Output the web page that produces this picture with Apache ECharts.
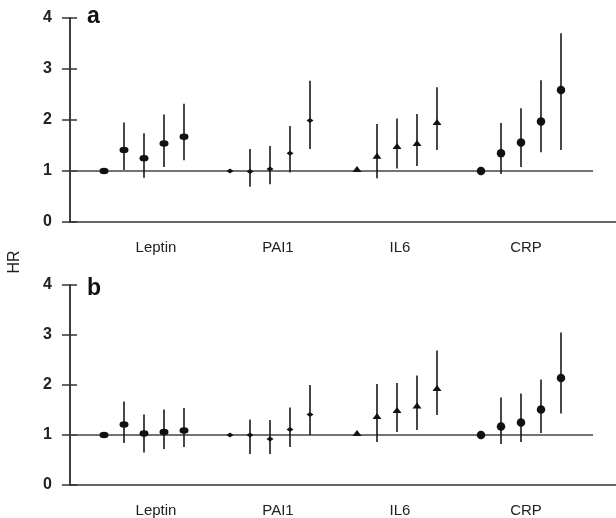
<!DOCTYPE html>
<html>
<head>
<meta charset="utf-8">
<script src="https://cdn.jsdelivr.net/npm/echarts@6/dist/echarts.min.js"></script>
<style>
  html, body { margin: 0; padding: 0; background: #fff; }
  #main { width: 616px; height: 518px; }
</style>
</head>
<body>
<div id="main"></div>
<script>
// 分组名称与标签位置
var groups = ['Leptin', 'PAI1', 'IL6', 'CRP'];
var labelPos = [4.3, 10.4, 16.5, 22.8];
var groupStart = [1.7, 8.0, 14.35, 20.55];

// a 图：HR 与置信区间
var hrA = [
  [1.00, 1.41, 1.25, 1.54, 1.67],
  [1.00, 0.99, 1.04, 1.35, 1.99],
  [1.00, 1.26, 1.45, 1.51, 1.92],
  [1.00, 1.35, 1.56, 1.97, 2.59]
];
var loA = [
  [null, 1.02, 0.87, 1.08, 1.21],
  [null, 0.69, 0.74, 0.97, 1.43],
  [null, 0.86, 1.05, 1.10, 1.41],
  [null, 0.94, 1.08, 1.37, 1.41]
];
var hiA = [
  [null, 1.95, 1.74, 2.11, 2.32],
  [null, 1.43, 1.49, 1.88, 2.77],
  [null, 1.92, 2.03, 2.12, 2.64],
  [null, 1.94, 2.23, 2.78, 3.70]
];

// b 图
var hrB = [
  [1.00, 1.21, 1.03, 1.06, 1.09],
  [1.00, 1.00, 0.92, 1.11, 1.41],
  [1.00, 1.34, 1.46, 1.55, 1.90],
  [1.00, 1.17, 1.25, 1.51, 2.14]
];
var loB = [
  [null, 0.84, 0.65, 0.72, 0.76],
  [null, 0.62, 0.62, 0.76, 1.00],
  [null, 0.86, 1.06, 1.10, 1.40],
  [null, 0.82, 0.86, 1.04, 1.43]
];
var hiB = [
  [null, 1.67, 1.41, 1.51, 1.54],
  [null, 1.31, 1.30, 1.55, 2.00],
  [null, 2.02, 2.04, 2.19, 2.69],
  [null, 1.75, 1.83, 2.11, 3.05]
];

// 各组标记样式
var marks = [
  { symbol: 'circle', size: [9, 6.5], offset: [0, 0] },
  { symbol: 'diamond', size: [7, 5], offset: [0, 0] },
  { symbol: 'triangle', size: [9, 6], offset: [0, -2] },
  { symbol: 'circle', size: [8.5, 8.5], offset: [0, 0] }
];

var font = 'Liberation Sans, Arial, sans-serif';
var axisColor = '#333';

function xAxisFor(gi) {
  return {
    gridIndex: gi, type: 'value', min: 0, max: 27.3,
    splitLine: { show: false },
    axisLine: { lineStyle: { color: axisColor, width: 1.5 } },
    axisTick: { show: false },
    axisLabel: {
      customValues: labelPos,
      margin: 18,
      fontFamily: font, fontSize: 15, color: '#222',
      formatter: function (v) {
        for (var k = 0; k < labelPos.length; k++) {
          if (Math.abs(labelPos[k] - v) < 0.01) return groups[k];
        }
        return '';
      }
    }
  };
}

function yAxesFor(gi) {
  return [{
    gridIndex: gi, type: 'value', min: 0, max: 4, interval: 1, position: 'left',
    splitLine: { show: false },
    axisLine: { lineStyle: { color: axisColor, width: 1.5 } },
    axisTick: { length: 8, lineStyle: { color: axisColor, width: 1.5 } },
    axisLabel: { margin: 18, fontFamily: font, fontSize: 16, fontWeight: 'bold', color: '#222' }
  }, {
    // 刻度线向内的部分
    gridIndex: gi, type: 'value', min: 0, max: 4, interval: 1, position: 'left', offset: 0,
    splitLine: { show: false },
    axisLine: { show: true, lineStyle: { color: axisColor, width: 1.5 } },
    axisTick: { show: true, inside: true, length: 7, lineStyle: { color: axisColor, width: 1.5 } },
    axisLabel: { show: false }
  }];
}

function panelSeries(gi, hr, lo, hi) {
  var out = [];
  var xIdx = gi, yIdx = gi * 2;
  // 参考线 HR = 1
  out.push({
    type: 'line', xAxisIndex: xIdx, yAxisIndex: yIdx,
    data: [[0, 1], [26.15, 1]], symbol: 'none', silent: true, z: 1,
    lineStyle: { color: '#444', width: 1.5 }
  });
  var bars = [];
  for (var g = 0; g < groups.length; g++) {
    for (var i = 0; i < hr[g].length; i++) {
      if (lo[g][i] != null) bars.push([groupStart[g] + i, lo[g][i], hi[g][i]]);
    }
  }
  out.push({
    type: 'custom', xAxisIndex: xIdx, yAxisIndex: yIdx, z: 2, silent: true,
    encode: { x: 0, y: [1, 2] },
    renderItem: function (params, api) {
      var p1 = api.coord([api.value(0), api.value(1)]);
      var p2 = api.coord([api.value(0), api.value(2)]);
      return {
        type: 'line',
        shape: { x1: p1[0], y1: p1[1], x2: p2[0], y2: p2[1] },
        style: { stroke: '#1a1a1a', lineWidth: 1.6 }
      };
    },
    data: bars
  });
  for (var g2 = 0; g2 < groups.length; g2++) {
    var pts = [];
    for (var j = 0; j < hr[g2].length; j++) pts.push([groupStart[g2] + j, hr[g2][j]]);
    out.push({
      type: 'scatter', xAxisIndex: xIdx, yAxisIndex: yIdx, z: 3,
      symbol: marks[g2].symbol, symbolSize: marks[g2].size, symbolOffset: marks[g2].offset,
      itemStyle: { color: '#111', opacity: 1 },
      data: pts
    });
  }
  return out;
}

var myChart = echarts.init(document.getElementById('main'));
myChart.setOption({
  animation: false,
  backgroundColor: '#fff',
  grid: [
    { left: 70, right: 0, top: 18, height: 204 },
    { left: 70, right: 0, top: 285, height: 201 }
  ],
  xAxis: [xAxisFor(0), xAxisFor(1)],
  yAxis: yAxesFor(0).concat(yAxesFor(1)),
  graphic: [
    { type: 'text', left: 87, top: 5, style: { text: 'a', font: 'bold 23px ' + font, fill: '#111' } },
    { type: 'text', left: 87, top: 277, style: { text: 'b', font: 'bold 23px ' + font, fill: '#111' } },
    { type: 'text', x: 15, y: 262, rotation: Math.PI / 2,
      style: { text: 'HR', font: '16px ' + font, fill: '#222', align: 'center', verticalAlign: 'middle' } }
  ],
  series: panelSeries(0, hrA, loA, hiA).concat(panelSeries(1, hrB, loB, hiB))
});
</script>
</body>
</html>
